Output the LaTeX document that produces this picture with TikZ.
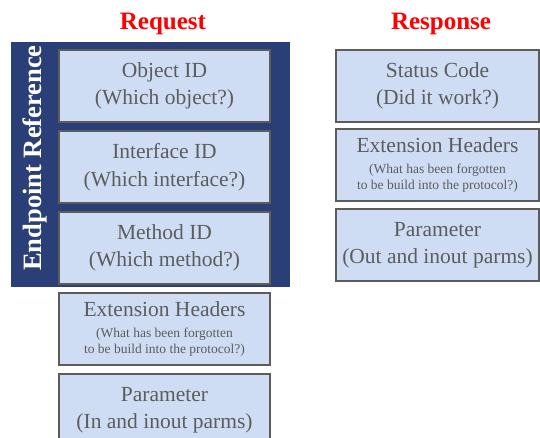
\documentclass[tikz,border=0pt]{standalone}
\usepackage{fontspec}
\setmainfont{Liberation Serif}
\begin{document}
\begin{tikzpicture}[x=1pt,y=-1pt,
  field/.style={draw=fieldline, line width=2pt, fill=fieldfill, text=fieldtext,
    minimum width=211pt, minimum height=72pt, anchor=north west, align=center,
    inner sep=0pt, font=\fontsize{21.5}{27.5}\selectfont},
  rfield/.style={field, minimum width=203pt},
  title/.style={text=red, font=\fontsize{25}{28}\selectfont\bfseries}
]
\definecolor{fieldfill}{HTML}{CEDDF4}
\definecolor{fieldline}{HTML}{5E5C58}
\definecolor{fieldtext}{HTML}{5C5C5C}
\definecolor{panel}{HTML}{2A3F77}
\newcommand{\smalltxt}{\fontsize{13.5}{16}\selectfont}
\useasboundingbox (0,0) rectangle (540,437);
\clip (0,0) rectangle (540,437);

% column headings
\node[title] (req) at (163,24) {Request};
\node[title] (resp) at (441,24) {Response};

% endpoint reference panel
\node[fill=panel, minimum width=279pt, minimum height=245pt, anchor=north west, inner sep=0pt] (panel) at (11,42) {};
\node[rotate=90, text=white, font=\fontsize{26.5}{30}\selectfont\bfseries] (epr) at (35,158) {Endpoint Reference};

% request fields
\node[field] (obj) at (58,49) {Object ID\\(Which object?)};
\node[field] (ifc) at (58,130) {Interface ID\\(Which interface?)};
\node[field] (meth) at (58,211) {Method ID\\(Which method?)};
\node[field] (rqext) at (58,292) {Extension Headers\\[-7pt]{\smalltxt (What has been forgotten}\\[-11pt]{\smalltxt to be build into the protocol?)}};
\node[field] (rqpar) at (58,373) {Parameter\\(In and inout parms)};

% response fields
\node[rfield] (stat) at (335,49) {Status Code\\(Did it work?)};
\node[rfield] (rsext) at (335,128) {Extension Headers\\[-7pt]{\smalltxt (What has been forgotten}\\[-11pt]{\smalltxt to be build into the protocol?)}};
\node[rfield] (rspar) at (335,208) {Parameter\\(Out and inout parms)};
\end{tikzpicture}
\end{document}
